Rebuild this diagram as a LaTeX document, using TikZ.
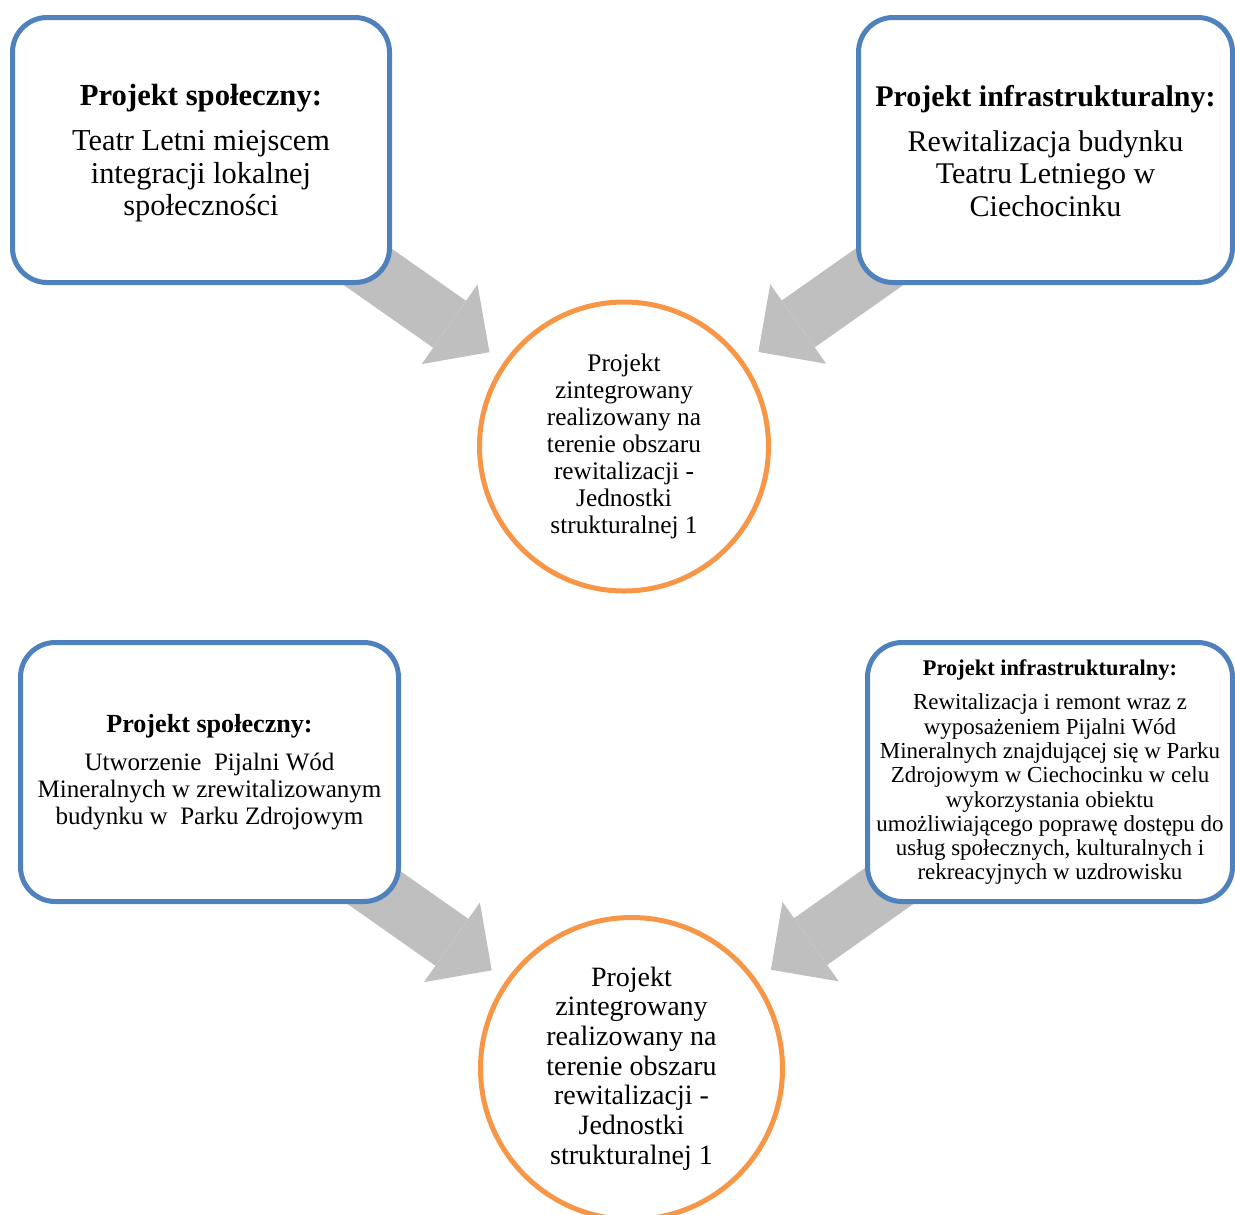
\documentclass[tikz,border=0pt]{standalone}
\usepackage{fontspec}
\setmainfont{Liberation Serif}
\usetikzlibrary{arrows.meta}
\pgfdeclarelayer{background}
\pgfsetlayers{background,main}
\definecolor{boxblue}{HTML}{4F81BD}
\definecolor{ringorange}{HTML}{F79646}
\definecolor{arrowgray}{HTML}{BFBFBF}
\newcommand\boxhead[2]{{\fontsize{#1}{#1}\selectfont\bfseries #2}}
\begin{document}
\begin{tikzpicture}[x=0.75pt,y=-0.75pt,
  projbox/.style={draw=boxblue, line width=3.75pt, rounded corners=26pt, fill=white,
    align=center, inner sep=0pt, text=black},
  ring/.style={circle, draw=ringorange, line width=3.75pt, fill=white,
    align=center, inner sep=0pt, text=black},
  bigarrow/.style={draw=arrowgray, line width=43pt,
    -{Triangle[width=73pt,length=36.5pt,line width=0pt]}, shorten >=13pt}]
\clip (0,0) rectangle (1235,1214);
\useasboundingbox (0,0) rectangle (1235,1214);

\node[projbox, minimum width=282.75pt, minimum height=198.75pt,
  font={\fontsize{22.8}{24.4}\selectfont}] (b1) at (201,150)
  {\boxhead{23}{\rule{0pt}{21pt}Projekt społeczny:}\\[9.5pt]
   Teatr Letni miejscem\\ integracji lokalnej\\ społeczności};

\node[projbox, minimum width=280.5pt, minimum height=198.75pt,
  font={\fontsize{22.5}{24.4}\selectfont}] (b2) at (1045.5,150)
  {\boxhead{22.5}{\rule{0pt}{17pt}Projekt infrastrukturalny:}\\[9.5pt]
   Rewitalizacja budynku\\ Teatru Letniego w\\ Ciechocinku};

\node[ring, minimum size=216.75pt,
  font={\fontsize{19}{20.25}\selectfont}] (c1) at (624,446.5)
  {Projekt\\ zintegrowany\\ realizowany na\\ terenie obszaru\\ rewitalizacji -\\ Jednostki\\ strukturalnej 1};

\node[projbox, minimum width=283.5pt, minimum height=194.25pt,
  font={\fontsize{18.8}{20.25}\selectfont}] (b3) at (209.5,772)
  {\boxhead{19.6}{Projekt społeczny:}\\[8pt]
   Utworzenie\ \ Pijalni Wód\\ Mineralnych w zrewitalizowanym\\ budynku w\ \ Parku Zdrojowym};

\node[projbox, minimum width=273.75pt, minimum height=194.25pt,
  font={\fontsize{17.2}{18.2}\selectfont}] (b4) at (1050,772)
  {\boxhead{16.8}{Projekt infrastrukturalny:}\\[8pt]
   Rewitalizacja i remont wraz z\\ wyposażeniem Pijalni Wód\\
   Mineralnych znajdującej się w Parku\\ Zdrojowym w Ciechocinku w celu\\
   wykorzystania obiektu\\ umożliwiającego poprawę dostępu do\\
   usług społecznych, kulturalnych i\\ rekreacyjnych w uzdrowisku};

\node[ring, minimum size=226.5pt,
  font={\fontsize{21}{22.3}\selectfont}] (c2) at (631.5,1068.5)
  {Projekt\\ zintegrowany\\ realizowany na\\ terenie obszaru\\ rewitalizacji -\\ Jednostki\\ strukturalnej 1};

\begin{pgfonlayer}{background}
  \draw[bigarrow] (b1.center) -- (c1);
  \draw[bigarrow] (b2.center) -- (c1);
  \draw[bigarrow] (b3.center) -- (c2);
  \draw[bigarrow] (b4.center) -- (c2);
\end{pgfonlayer}
\end{tikzpicture}
\end{document}
